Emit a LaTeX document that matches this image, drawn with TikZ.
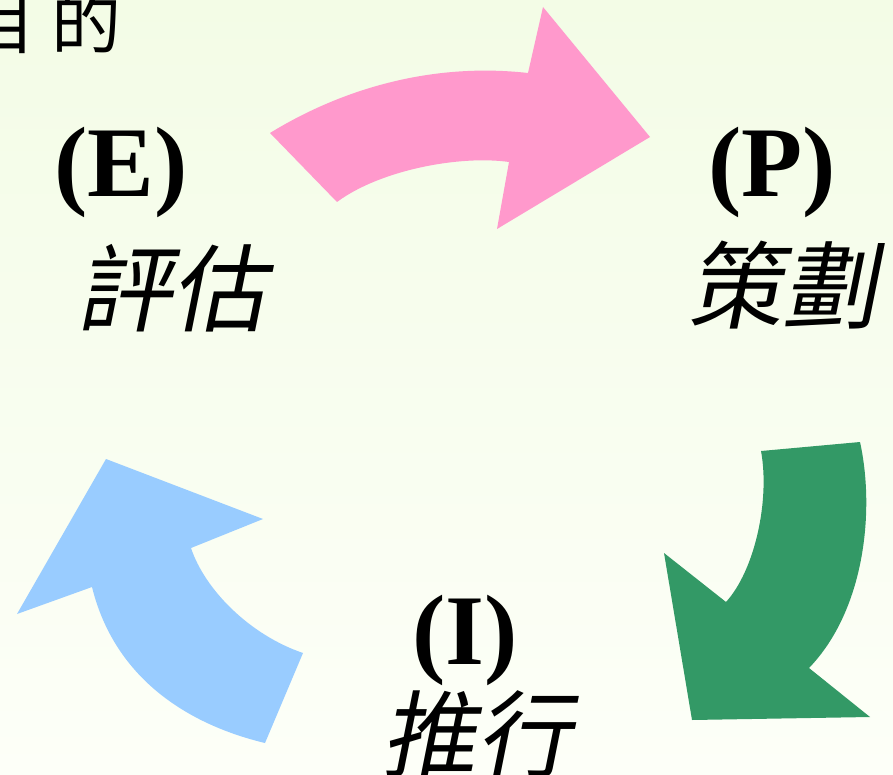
\documentclass[tikz,border=0pt]{standalone}
\usepackage{fontspec}
\setmainfont{Liberation Serif}
\newfontfamily\cjk{Noto Sans CJK TC}
\newfontfamily\cjksl{Noto Sans CJK TC}[FakeSlant=0.2]
\definecolor{pinkarrow}{HTML}{FF99CC}
\definecolor{greenarrow}{HTML}{339966}
\definecolor{bluearrow}{HTML}{99CCFF}
\definecolor{bgtop}{HTML}{F3FCE6}
\definecolor{bgbot}{HTML}{FDFFF8}
\begin{document}
\begin{tikzpicture}[x=1pt,y=-1pt,
  letter/.style={inner sep=0pt,anchor=base,font=\bfseries\fontsize{100}{100}\selectfont},
  cjkword/.style={inner sep=0pt,anchor=base,font=\cjksl\fontsize{95}{95}\selectfont},
  arrowshape/.style={draw=none}]
\useasboundingbox (0,0) rectangle (893,775);
\shade[top color=bgtop,bottom color=bgbot] (0,0) rectangle (893,775);
\clip (0,0) rectangle (893,775);
% title
\node[inner sep=0pt,anchor=base east,font=\cjk\fontsize{70}{70}\selectfont] (title) at (122,49) {目 的};
% pink arrow (E -> P)
\fill[pinkarrow,arrowshape] (270,133) .. controls (340,90) and (430,62) .. (528,73)
  -- (543,7) -- (650,137) -- (497,229) -- (509,162)
  .. controls (460,155) and (380,170) .. (337,202) -- cycle;
% green arrow (P -> I)
\fill[greenarrow,arrowshape] (761,451) -- (860,442)
  .. controls (875,510) and (865,610) .. (809,668)
  -- (870,717) -- (692,720) -- (664,553) -- (726,602)
  .. controls (755,570) and (770,500) .. (761,451) -- cycle;
% blue arrow (I -> E)
\fill[bluearrow,arrowshape] (303,653) -- (265,743)
  .. controls (190,725) and (115,680) .. (92,587)
  -- (17,614) -- (106,459) -- (263,519) -- (191,548)
  .. controls (205,590) and (250,635) .. (303,653) -- cycle;
% labels
\node[letter] (E) at (121,197) {(E)};
\node[cjkword] (Ezh) at (171,324) {評估};
\node[letter] (P) at (772,197) {(P)};
\node[cjkword] (Pzh) at (782,321) {策劃};
\node[letter] (I) at (465,664) {(I)};
\node[cjkword] (Izh) at (476,770) {推行};
\end{tikzpicture}
\end{document}
